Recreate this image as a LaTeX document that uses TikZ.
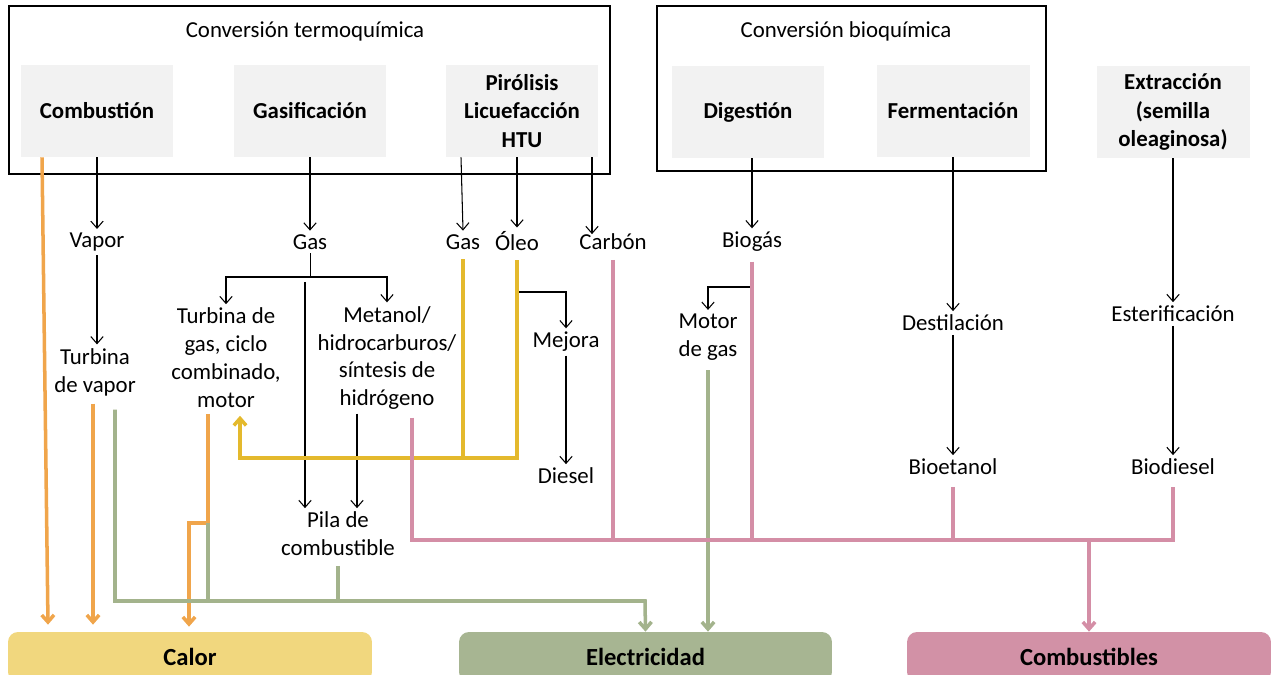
\documentclass[tikz,border=0pt]{standalone}
\usepackage{fontspec}
\setmainfont{Carlito}
\usetikzlibrary{arrows.meta,calc}
\definecolor{procgray}{RGB}{242,242,242}
\definecolor{calorfill}{RGB}{241,215,126}
\definecolor{elecfill}{RGB}{167,181,146}
\definecolor{combfill}{RGB}{210,145,166}
\definecolor{hotline}{RGB}{240,165,75}
\definecolor{oilline}{RGB}{228,185,45}
\definecolor{elecline}{RGB}{163,179,140}
\definecolor{fuelline}{RGB}{212,142,166}
\tikzset{
  proc/.style={fill=procgray, minimum width=3.06cm, minimum height=1.84cm, align=center, font=\fontsize{13}{16}\selectfont\bfseries},
  txt/.style={align=center, inner sep=2pt},
  outbox/.style={rounded corners=0.2cm, minimum width=7.28cm, minimum height=1cm, font=\fontsize{14}{17}\selectfont\bfseries},
  frame/.style={line width=1.3pt},
  arr/.style={-{Straight Barb[length=4pt,width=7pt]}, line width=0.6pt},
  hot/.style={draw=hotline, line width=2pt},
  oil/.style={draw=oilline, line width=2pt},
  elc/.style={draw=elecline, line width=2pt},
  fuel/.style={draw=fuelline, line width=2pt},
  big/.style={-{Straight Barb[length=4pt,width=7pt]}}
}
\begin{document}
\begin{tikzpicture}[x=0.02cm, y=-0.02cm, font=\fontsize{13}{15.9}\selectfont]
\useasboundingbox (0,0) rectangle (1273,675);
% groups
\draw[frame] (9,6) rectangle (610,174);
\draw[frame] (657,6) rectangle (1046,171);
\node (termo) at (305,31) {Conversión termoquímica};
\node (bioq) at (846,31) {Conversión bioquímica};
% processes
\node[proc] (combus) at (97,111) {Combustión};
\node[proc] (gasif) at (310,111) {Gasificación};
\node[proc] (piro) at (522,111) {Pirólisis\\Licuefacción\\HTU};
\node[proc] (dig) at (748,112) {Digestión};
\node[proc] (ferm) at (953,111) {Fermentación};
\node[proc] (extr) at (1173,112) {Extracción\\(semilla\\oleaginosa)};
% intermediate products
\node[txt] (vapor) at (97,242) {Vapor};
\node[txt] (gasA) at (310,242) {Gas};
\node[txt] (gasB) at (463,242) {Gas};
\node[txt] (oleo) at (517,241) {Óleo};
\node[txt] (carbon) at (613,242) {Carbón};
\node[txt] (biogas) at (752,242) {Biogás};
\node[txt] (turbvap) at (95,372) {Turbina\\de vapor};
\node[txt] (turbgas) at (226,358) {Turbina de\\gas, ciclo\\combinado,\\motor};
\node[txt] (metanol) at (387,358) {Metanol/\\hidrocarburos/\\síntesis de\\hidrógeno};
\node[txt] (mejora) at (566,342) {Mejora};
\node[txt] (diesel) at (566,476) {Diesel};
\node[txt] (motorgas) at (708,337) {Motor\\de gas};
\node[txt] (destil) at (953,323) {Destilación};
\node[txt] (ester) at (1173,314) {Esterificación};
\node[txt] (bioet) at (953,467) {Bioetanol};
\node[txt] (biodie) at (1173,467) {Biodiesel};
\node[txt] (pila) at (338,534) {Pila de\\combustible};
% end uses
\node[outbox, fill=calorfill] (calor) at (190,657) {Calor};
\node[outbox, fill=elecfill, minimum width=7.46cm] (elec) at (645.5,657) {Electricidad};
\node[outbox, fill=combfill] (comb) at (1089,657) {Combustibles};
% branch points
\coordinate (gsplit) at (310,277);
\coordinate (gdrop) at (305,282);
\coordinate (hdrop) at ($(metanol.south)+(-30,0)$);
\coordinate (obr) at (517,292);
\coordinate (bbr) at (752,287);
\coordinate (tgsplit) at (208,523);
\coordinate (gbus) at (645,601);
\coordinate (ybus) at (517,458);
\coordinate (pbus) at (1173,540);
% process chains
\draw[arr] (combus.south) -- (vapor.north);
\draw[arr] (gasif.south) -- (gasA.north);
\draw[arr] ($(piro.south)+(-61,0)$) -- (gasB.north);
\draw[arr] (oleo.north |- piro.south) -- (oleo.north);
\draw[arr] ($(piro.south)+(70,0)$) -- ($(carbon.north)+(-21,4)$);
\draw[arr] (biogas.north |- dig.south) -- (biogas.north);
\draw[arr] (ferm.south) -- (destil.north);
\draw[arr] (extr.south) -- (ester.north);
\draw[arr] (vapor.south) -- (vapor.south |- turbvap.north);
\draw (gasA.south) -- (gsplit);
\draw[arr] (gsplit) -| (turbgas.north);
\draw[arr] (gsplit) -| (metanol.north);
\draw[arr] (gdrop) -- (gdrop |- pila.north);
\draw[arr] (hdrop) -- (hdrop |- pila.north);
\draw[arr] (obr) -| (mejora.north);
\draw[arr] (mejora.south) -- (diesel.north);
\draw[arr] (bbr) -| (motorgas.north);
\draw[arr] (destil.south) -- (bioet.north);
\draw[arr] (ester.south) -- (biodie.north);
% heat
\draw[hot, big] ($(combus.south)+(-55,0)$) -- ($(calor.north)+(-142,-7)$);
\draw[hot, big] ($(turbvap.south)+(-2,4)$) -- ($(calor.north)+(-97,-7)$);
\draw[hot] ($(turbgas.south)+(-18,2)$) -- (tgsplit);
\draw[hot, big] (tgsplit) -| ($(calor.north)+(-1,-5)$);
% oil and gas back to turbine
\draw[oil] ($(gasB.south)+(0,6)$) -- (gasB.south |- ybus);
\draw[oil, big] ($(oleo.south)+(0,6)$) -- (ybus) -| ($(turbgas.south)+(14,4)$);
% electricity
\draw[elc, big] ($(turbvap.south)+(20,10)$) |- (gbus) -- (elec.north);
\draw[elc] (tgsplit) -- (tgsplit |- gbus);
\draw[elc] ($(pila.south)+(0,6)$) -- (pila.south |- gbus);
\draw[elc, big] ($(motorgas.south)+(0,6)$) -- (motorgas.south |- elec.north);
% fuels
\draw[fuel] ($(metanol.south)+(25,4)$) |- (pbus) -- ($(biodie.south)+(0,8)$);
\draw[fuel] ($(carbon.south)+(0,6)$) -- (carbon.south |- pbus);
\draw[fuel] ($(biogas.south)+(0,6)$) -- (biogas.south |- pbus);
\draw[fuel] ($(bioet.south)+(0,8)$) -- (bioet.south |- pbus);
\draw[fuel, big] (comb.north |- pbus) -- (comb.north);
\end{tikzpicture}
\end{document}
